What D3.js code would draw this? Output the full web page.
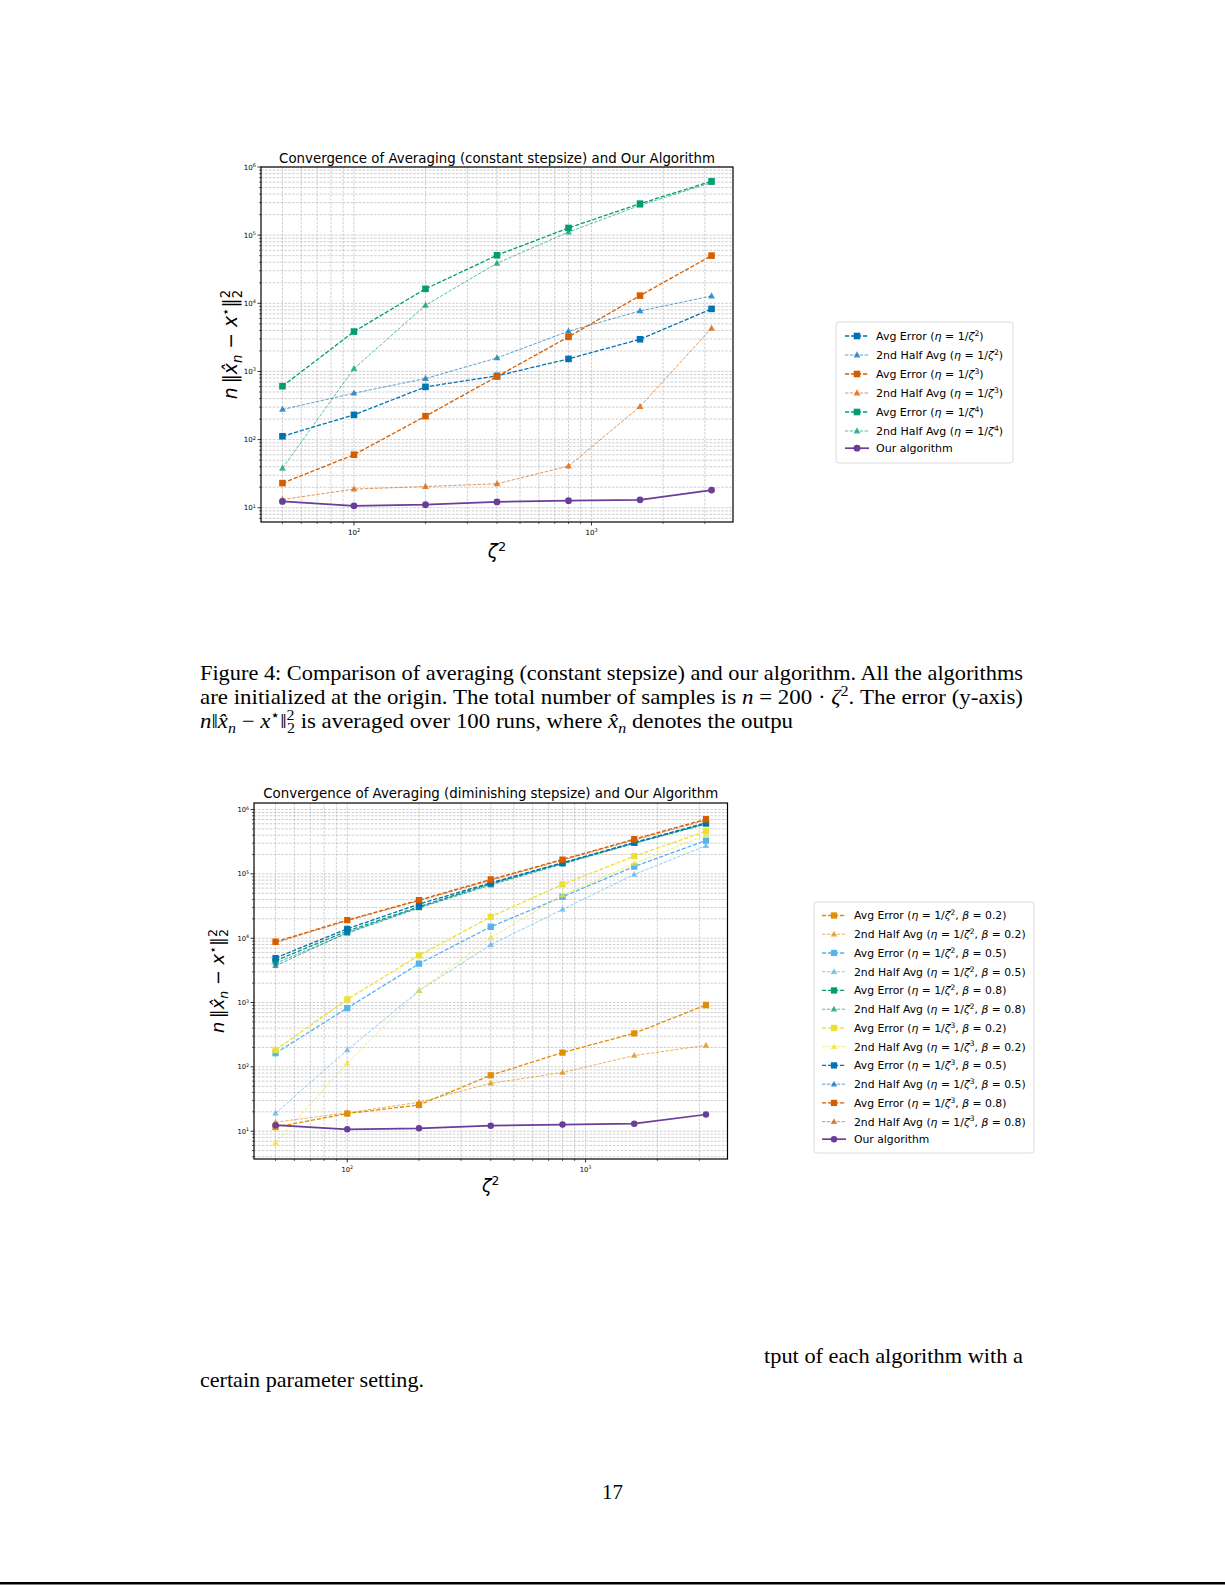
<!DOCTYPE html>
<html><head><meta charset="utf-8">
<script src="https://cdn.jsdelivr.net/npm/d3@7/dist/d3.min.js"></script>
<style>
body{margin:0;background:#fff;}
svg{display:block;}
</style></head><body>
<svg id="page" width="1225" height="1585"></svg>
<script>
// ---------------- DATA ----------------
const zeta2 = [50, 100, 200, 400, 800, 1600, 3200];

// Figure: constant stepsize
const constAvgZ2  = [112, 231, 594, 862, 1530, 2970, 8280];
const constHalfZ2 = [277, 480, 787, 1580, 3890, 7740, 12800];
const constAvgZ3  = [23, 60, 221, 843, 3220, 12970, 50100];
const constHalfZ3 = [13.2, 18.8, 20.5, 22.5, 40.8, 306, 4310];
const constAvgZ4  = [608, 3850, 16300, 50700, 127600, 290000, 616000];
const constHalfZ4 = [38, 1100, 9370, 38700, 111000, 274000, 589000];
const ourAlgorithm = [12.4, 10.7, 11.1, 12.2, 12.7, 13.1, 18.2];

// Figure: diminishing stepsize
const dimAvgZ2B02  = [11.6, 18.8, 25.6, 74, 167, 333, 916];
const dimHalfZ2B02 = [13.8, 19.3, 28.2, 55.6, 81.5, 150, 216];
const dimAvgZ2B05  = [163, 822, 4010, 15070, 44000, 130000, 330000];
const dimHalfZ2B05 = [19, 183, 1530, 7920, 28000, 98000, 273000];
const dimAvgZ2B08  = [4470, 12900, 30800, 71000, 147000, 304000, 607000];
const dimHalfZ2B08 = [4070, 11900, 29400, 66900, 141600, 296000, 591000];
const dimAvgZ3B02  = [183, 1120, 5410, 21500, 68400, 188000, 460000];
const dimHalfZ3B02 = [6.6, 114, 1510, 10200, 46700, 145000, 399000];
const dimAvgZ3B05  = [4920, 14000, 33900, 72600, 148600, 307000, 621000];
const dimHalfZ3B05 = [3730, 12200, 30100, 69200, 145000, 300000, 599000];
const dimAvgZ3B08  = [8810, 19100, 39100, 81800, 167000, 346000, 708000];
const dimHalfZ3B08 = [8500, 18700, 38200, 78900, 163000, 334000, 683000];

// Legend label pieces
const kindNames = {avg: "Avg Error", half: "2nd Half Avg"};
const constKinds  = ["avg", "half", "avg", "half", "avg", "half"];
const constPowers = ["2", "2", "3", "3", "4", "4"];
const dimKinds  = ["avg", "half", "avg", "half", "avg", "half", "avg", "half", "avg", "half", "avg", "half"];
const dimPowers = ["2", "2", "2", "2", "2", "2", "3", "3", "3", "3", "3", "3"];
const dimBetas  = ["0.2", "0.2", "0.5", "0.5", "0.8", "0.8", "0.2", "0.2", "0.5", "0.5", "0.8", "0.8"];
const ourLabel = "Our algorithm";

const title1 = "Convergence of Averaging (constant stepsize) and Our Algorithm";
const title2 = "Convergence of Averaging (diminishing stepsize) and Our Algorithm";

// ---------------- STYLE ----------------
const C_BLUE = "#0173b2", C_ORANGE = "#de8f05", C_GREEN = "#029e73", C_VERM = "#d55e00",
      C_YELLOW = "#ece133", C_LBLUE = "#56b4e9", C_PURPLE = "#6a3d9a";
const constColors = [C_BLUE, C_BLUE, C_VERM, C_VERM, C_GREEN, C_GREEN];
const dimColors = [C_ORANGE, C_ORANGE, C_LBLUE, C_LBLUE, C_GREEN, C_GREEN,
                   C_YELLOW, C_YELLOW, C_BLUE, C_BLUE, C_VERM, C_VERM];
const SANS = "DejaVu Sans";
const SERIF = "Liberation Serif";

const svg = d3.select("#page");
svg.append("rect").attr("width", 1225).attr("height", 1585).attr("fill", "#fff");

// rich text helper
function addRich(textSel, segs, base) {
  let shift = 0;
  segs.forEach(sg => {
    const ts = textSel.append("tspan").text(sg.t);
    let target = 0, fs = base;
    if (sg.s === "sup") { target = -base * 0.38; fs = base * 0.7; }
    else if (sg.s === "sub") { target = base * 0.25; fs = base * 0.7; }
    ts.attr("dy", (target - shift).toFixed(2)).attr("font-size", fs);
    if (sg.i) ts.attr("font-style", "italic");
    if (sg.dx) ts.attr("dx", sg.dx);
    shift = target;
  });
}

function legendSegs(kind, power, beta) {
  const s = [{t: kindNames[kind] + " ("}, {t: "η", i: 1}, {t: " = 1/"}, {t: "ζ", i: 1}, {t: power, s: "sup"}];
  if (beta !== undefined) { s.push({t: ", "}, {t: "β", i: 1}, {t: " = " + beta}); }
  s.push({t: ")"});
  return s;
}

function markerPath(kind, k) {
  const a = 3.3 * k, t = 3.7 * k;
  if (kind === "avg") return `M${-a},${-a}H${a}V${a}H${-a}Z`;
  if (kind === "half") return `M0,${-t}L${t * 0.92},${t * 0.65}H${-t * 0.92}Z`;
  return null;
}

function drawSeriesMark(g, kind, color, pts) {
  const line = d3.line();
  const p = g.append("path").attr("d", line(pts)).attr("fill", "none").attr("stroke", color);
  if (kind === "avg") p.attr("stroke-width", 1.3).attr("stroke-dasharray", "4.2,1.8");
  else if (kind === "half") p.attr("stroke-width", 0.95).attr("stroke-dasharray", "3.4,1.5").attr("opacity", 0.7);
  else p.attr("stroke-width", 1.7);
  return p;
}

function drawMarkers(g, kind, color, pts, k) {
  pts.forEach(([px, py]) => {
    if (kind === "ours") {
      g.append("circle").attr("cx", px).attr("cy", py).attr("r", 3.4 * k).attr("fill", color);
    } else {
      const m = g.append("path").attr("d", markerPath(kind, k))
        .attr("transform", `translate(${px},${py})`).attr("fill", color);
      if (kind === "half") m.attr("opacity", 0.75);
    }
  });
}

function drawChart(cfg) {
  const k = cfg.scale;
  const x = d3.scaleLog().domain(cfg.xDomain).range([cfg.left, cfg.right]);
  const y = d3.scaleLog().domain(cfg.yDomain).range([cfg.bottom, cfg.top]);
  const g = svg.append("g");

  const xMaj = [], xMin = [], yMaj = [], yMin = [];
  for (let e = 0; e <= 7; e++) for (let m = 1; m <= 9; m++) {
    const v = m * Math.pow(10, e);
    if (v >= cfg.xDomain[0] && v <= cfg.xDomain[1]) (m === 1 ? xMaj : xMin).push(v);
    if (v >= cfg.yDomain[0] * 0.9999 && v <= cfg.yDomain[1] * 1.0001) (m === 1 ? yMaj : yMin).push(v);
  }

  // grid
  const grid = g.append("g").attr("stroke", "#b5b5b5").attr("stroke-width", 0.65).attr("stroke-dasharray", "2.6,1.3");
  xMaj.concat(xMin).forEach(v => grid.append("line").attr("x1", x(v)).attr("x2", x(v)).attr("y1", cfg.top).attr("y2", cfg.bottom));
  yMaj.concat(yMin).forEach(v => grid.append("line").attr("y1", y(v)).attr("y2", y(v)).attr("x1", cfg.left).attr("x2", cfg.right));

  // series
  const clipId = cfg.id + "-clip";
  svg.append("clipPath").attr("id", clipId).append("rect")
    .attr("x", cfg.left).attr("y", cfg.top).attr("width", cfg.right - cfg.left).attr("height", cfg.bottom - cfg.top);
  const sg = g.append("g").attr("clip-path", `url(#${clipId})`);
  cfg.series.forEach(s => {
    const pts = s.values.map((v, i) => [x(zeta2[i]), y(v)]);
    drawSeriesMark(sg, s.kind, s.color, pts);
    drawMarkers(sg, s.kind, s.color, pts, k);
  });

  // spines
  g.append("rect").attr("x", cfg.left).attr("y", cfg.top).attr("width", cfg.right - cfg.left)
    .attr("height", cfg.bottom - cfg.top).attr("fill", "none").attr("stroke", "#000").attr("stroke-width", 1.2);

  // tick marks
  const tk = g.append("g").attr("stroke", "#000");
  xMaj.forEach(v => tk.append("line").attr("x1", x(v)).attr("x2", x(v)).attr("y1", cfg.bottom).attr("y2", cfg.bottom + 3.5).attr("stroke-width", 0.8));
  xMin.forEach(v => tk.append("line").attr("x1", x(v)).attr("x2", x(v)).attr("y1", cfg.bottom).attr("y2", cfg.bottom + 2).attr("stroke-width", 0.6));
  yMaj.forEach(v => tk.append("line").attr("y1", y(v)).attr("y2", y(v)).attr("x1", cfg.left).attr("x2", cfg.left - 3.5).attr("stroke-width", 0.8));
  yMin.forEach(v => tk.append("line").attr("y1", y(v)).attr("y2", y(v)).attr("x1", cfg.left).attr("x2", cfg.left - 2).attr("stroke-width", 0.6));

  // tick labels
  const TL = 7.1 * k;
  xMaj.forEach(v => {
    const t = g.append("text").attr("x", x(v)).attr("y", cfg.bottom + 13).attr("text-anchor", "middle")
      .attr("font-family", SANS).attr("font-size", TL).attr("fill", "#000");
    addRich(t, [{t: "10"}, {t: String(Math.round(Math.log10(v))), s: "sup"}], TL);
  });
  yMaj.forEach(v => {
    const t = g.append("text").attr("x", cfg.left - 5).attr("y", y(v) + 2.6).attr("text-anchor", "end")
      .attr("font-family", SANS).attr("font-size", TL).attr("fill", "#000");
    addRich(t, [{t: "10"}, {t: String(Math.round(Math.log10(v))), s: "sup"}], TL);
  });

  // title
  const tt = g.append("text").attr("x", (cfg.left + cfg.right) / 2).attr("y", cfg.top - cfg.titleOff)
    .attr("text-anchor", "middle").attr("font-family", SANS).attr("font-size", 12).attr("fill", "#000").text(cfg.title);
  const w = tt.node().getComputedTextLength();
  tt.attr("font-size", (12 * cfg.titleWidth / w).toFixed(2));

  // x label
  const XS = 18.5 * k;
  const xl = g.append("text").attr("x", (cfg.left + cfg.right) / 2).attr("y", cfg.bottom + cfg.xlabOff)
    .attr("text-anchor", "middle").attr("font-family", SANS).attr("font-size", XS).attr("fill", "#000");
  addRich(xl, [{t: "ζ", i: 1}, {t: "2", s: "sup"}], XS);

  // y label
  const YL = 18.8 * k;
  const yl = g.append("text").attr("transform", `translate(${cfg.ylabX},${(cfg.top + cfg.bottom) / 2}) rotate(-90)`)
    .attr("text-anchor", "middle").attr("font-family", SANS).attr("font-size", YL).attr("fill", "#000");
  addRich(yl, [{t: "n", i: 1}, {t: "\u2009\u2016"}, {t: "x\u0302", i: 1}, {t: "n", i: 1, s: "sub"},
               {t: " \u2212 "}, {t: "x", i: 1}, {t: "\u22c6", s: "sup"}, {t: "\u2016"},
               {t: "2", s: "sup"}, {t: "2", s: "sub", dx: -0.44 * YL}], YL);

  // legend
  const L = cfg.legend;
  g.append("rect").attr("x", L.x).attr("y", L.y).attr("width", L.w).attr("height", L.h)
    .attr("rx", 3).attr("fill", "#fff").attr("stroke", "#d6d6d6").attr("stroke-width", 0.9);
  cfg.series.forEach((s, i) => {
    const isLast = i === cfg.series.length - 1;
    const ry = L.row0 + i * L.step - (isLast ? L.lastAdj : 0);
    const lg = g.append("g");
    drawSeriesMark(lg, s.kind, s.color, [[L.hx0, ry], [L.hx1, ry]]);
    drawMarkers(lg, s.kind, s.color, [[(L.hx0 + L.hx1) / 2, ry]], k);
    const t = g.append("text").attr("x", L.tx).attr("y", ry + 0.36 * L.fs).attr("font-family", SANS)
      .attr("font-size", L.fs).attr("fill", "#000");
    if (s.kind === "ours") t.text(ourLabel);
    else addRich(t, legendSegs(s.kind, s.power, s.beta), L.fs);
  });
}

// margins like matplotlib (5% in log space)
function logMargins(minV, maxV) {
  const a = Math.log10(minV), b = Math.log10(maxV), m = (b - a) * 0.05;
  return [Math.pow(10, a - m), Math.pow(10, b + m)];
}
const xDom = logMargins(d3.min(zeta2), d3.max(zeta2));

// ---------------- CHART 1 ----------------
const constValues = [constAvgZ2, constHalfZ2, constAvgZ3, constHalfZ3, constAvgZ4, constHalfZ4];
const series1 = constValues.map((v, i) => ({values: v, kind: constKinds[i], power: constPowers[i], color: constColors[i]}));
series1.push({values: ourAlgorithm, kind: "ours", color: C_PURPLE});
const all1 = constValues.flat().concat(ourAlgorithm);
const y1 = logMargins(d3.min(all1), d3.max(all1));

drawChart({
  id: "c1", scale: 1, left: 261, right: 733, top: 167, bottom: 522,
  xDomain: xDom, yDomain: [y1[0], 1e6],
  title: title1, titleWidth: 436, titleOff: 4, xlabOff: 36, ylabX: 237,
  series: series1,
  legend: {x: 836, y: 322, w: 177, h: 141, row0: 336, step: 19.0, lastAdj: 1.8,
           hx0: 845, hx1: 869, tx: 876, fs: 11}
});

// ---------------- CHART 2 ----------------
const dimValues = [dimAvgZ2B02, dimHalfZ2B02, dimAvgZ2B05, dimHalfZ2B05, dimAvgZ2B08, dimHalfZ2B08,
                   dimAvgZ3B02, dimHalfZ3B02, dimAvgZ3B05, dimHalfZ3B05, dimAvgZ3B08, dimHalfZ3B08];
const series2 = dimValues.map((v, i) => ({values: v, kind: dimKinds[i], power: dimPowers[i], beta: dimBetas[i], color: dimColors[i]}));
series2.push({values: ourAlgorithm, kind: "ours", color: C_PURPLE});
const all2 = dimValues.flat().concat(ourAlgorithm);
const y2 = logMargins(d3.min(all2), d3.max(all2));

drawChart({
  id: "c2", scale: 0.95, left: 254, right: 727.5, top: 803, bottom: 1159,
  xDomain: xDom, yDomain: y2,
  title: title2, titleWidth: 455, titleOff: 5, xlabOff: 33, ylabX: 224,
  series: series2,
  legend: {x: 814, y: 902, w: 220, h: 251, row0: 915.5, step: 18.74, lastAdj: 1.2,
           hx0: 822, hx1: 846, tx: 854, fs: 10.8}
});

// ---------------- PAGE TEXT ----------------
const FS = 21;
function pageLine(x, y, segs, opts = {}) {
  const t = svg.append("text").attr("x", x).attr("y", y).attr("font-family", SERIF)
    .attr("font-size", FS).attr("fill", "#000");
  if (opts.anchor) t.attr("text-anchor", opts.anchor);
  addRich(t, segs, FS);
  if (opts.width) {
    const nat = t.node().getComputedTextLength();
    t.attr("textLength", opts.width).attr("lengthAdjust", nat > opts.width * 0.97 ? "spacing" : "spacingAndGlyphs");
  }
  return t;
}
pageLine(200, 680, [{t: "Figure 4:  Comparison of averaging (constant stepsize) and our algorithm.  All the algorithms"}], {width: 823});
pageLine(200, 704, [{t: "are initialized at the origin.  The total number of samples is "}, {t: "n", i: 1},
  {t: " = 200 · "}, {t: "ζ", i: 1}, {t: "2", s: "sup"}, {t: ".  The error (y-axis)"}], {width: 823});
pageLine(200, 728, [{t: "n", i: 1}, {t: "‖"}, {t: "x\u0302", i: 1}, {t: "n", i: 1, s: "sub"}, {t: " − "},
  {t: "x", i: 1}, {t: "⋆", s: "sup"}, {t: "‖"}, {t: "2", s: "sup"}, {t: "2", s: "sub", dx: -7},
  {t: " is averaged over 100 runs, where "}, {t: "x\u0302", i: 1}, {t: "n", i: 1, s: "sub"},
  {t: " denotes the outpu"}], {width: 593});
pageLine(764, 1363, [{t: "tput of each algorithm with a"}], {width: 259});
pageLine(200, 1387, [{t: "certain parameter setting."}], {width: 224});
pageLine(612.5, 1499, [{t: "17"}], {anchor: "middle"});
svg.append("rect").attr("x", 0).attr("y", 1582).attr("width", 1225).attr("height", 2.5).attr("fill", "#000");
</script>
</body></html>
